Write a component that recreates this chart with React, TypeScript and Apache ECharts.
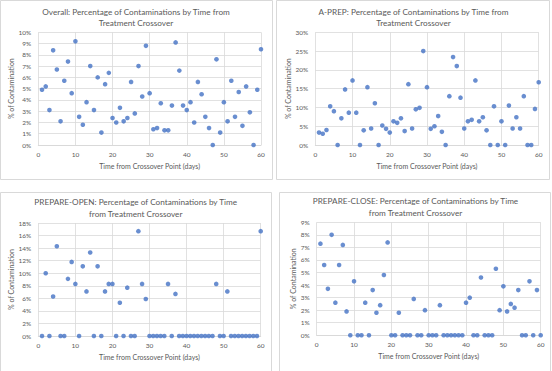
import React, { useEffect, useRef } from "react";
import * as echarts from "echarts";

const days = Array.from({ length: 60 }, (_, i) => i + 1);

const overall = [
  4.9, 5.2, 3.1, 8.4, 6.7, 2.1, 5.7, 7.4, 4.6, 9.2,
  2.5, 1.8, 3.8, 7.0, 3.1, 6.0, 1.1, 5.4, 6.4, 2.4,
  2.0, 3.3, 2.1, 2.4, 5.6, 2.8, 7.0, 4.3, 8.8, 4.6,
  1.4, 1.5, 3.7, 1.3, 1.3, 3.5, 9.1, 6.6, 3.5, 3.1,
  3.8, 2.0, 5.6, 4.5, 2.5, 1.5, 0, 7.6, 1.1, 3.8,
  2.1, 5.7, 2.5, 4.7, 1.7, 5.2, 2.9, 0, 4.9, 8.5,
];

const aPrep = [
  3.3, 3.0, 4.0, 10.3, 9.0, 0, 7.1, 14.8, 8.6, 17.2,
  8.6, 0, 3.9, 15.4, 4.4, 11.1, 0, 5.2, 4.3, 3.3,
  6.3, 5.9, 7.1, 3.7, 16.2, 4.4, 9.5, 9.9, 25.0, 15.4,
  4.3, 5.0, 7.7, 3.5, 0, 13.0, 23.4, 21.0, 12.6, 4.4,
  6.3, 6.7, 17.2, 6.3, 7.4, 3.9, 0, 10.3, 0, 6.3,
  0, 10.5, 4.4, 7.4, 4.4, 13.0, 0, 0, 9.6, 16.7,
];

const prepareOpen = [
  0, 10.0, 0, 6.3, 14.3, 0, 0, 9.1, 11.8, 8.3,
  0, 11.1, 7.1, 13.3, 0, 11.1, 0, 7.1, 8.3, 8.3,
  0, 5.3, 0, 7.7, 0, 0, 16.7, 8.3, 5.9, 0,
  0, 0, 0, 0, 8.3, 0, 6.7, 0, 0, 0,
  0, 0, 0, 0, 0, 0, 0, 8.3, 0, 0,
  7.1, 0, 0, 0, 0, 0, 0, 0, 0, 16.7,
];

const prepareClose = [
  7.3, 5.6, 3.7, 8.0, 2.6, 5.6, 7.2, 1.9, 0, 4.3,
  0, 0, 2.6, 0, 3.6, 1.8, 2.4, 4.8, 7.4, 0,
  0, 1.8, 0, 0, 0, 2.9, 0, 0, 2.0, 0,
  0, 0, 2.4, 0, 0, 0, 0, 0, 0, 2.6,
  3.0, 0, 0, 4.6, 0, 0, 0, 5.3, 2.0, 3.9,
  1.9, 2.5, 2.2, 3.6, 0, 0, 4.3, 0, 3.6, 0,
];

const titles = [
  ["Overall: Percentage of Contaminations by Time from", "Treatment Crossover"],
  ["A-PREP: Percentage of Contaminations by Time from", "Treatment Crossover"],
  ["PREPARE-OPEN: Percentage of Contaminations by Time", "from Treatment Crossover"],
  ["PREPARE-CLOSE: Percentage of Contaminations by Time", "from Treatment Crossover"],
];
const yMax = [10, 30, 18, 9];
const yInterval = [1, 5, 2, 1];
const seriesData = [overall, aPrep, prepareOpen, prepareClose];
const xAxisTitle = "Time from Crossover Point (days)";
const yAxisTitle = "% of Contamination";

const FONT = "Lato";
const TXT = "#595959";
const GRID = "#d9d9d9";
const BLUE = "#4472C4";

const grids = [
  { left: 38.3, top: 32.3, width: 222.7, height: 112.7 },
  { left: 315.3, top: 32.3, width: 223.4, height: 112.7 },
  { left: 38.3, top: 223, width: 222.4, height: 113 },
  { left: 316.7, top: 222.3, width: 224, height: 113 },
];
const titlePos = [
  { x: 136, y1: 12.3, y2: 23.3 },
  { x: 413.5, y1: 12.3, y2: 23.3 },
  { x: 135.7, y1: 202.3, y2: 214 },
  { x: 415.5, y1: 201, y2: 212.7 },
];
const borders = [
  { x: 0.5, y: 0.5, width: 272, height: 179 },
  { x: 276.5, y: 0.5, width: 273, height: 179 },
  { x: 0.5, y: 192.5, width: 271, height: 190 },
  { x: 279.5, y: 192.5, width: 271, height: 190 },
];
const yNameGap = [22, 22, 22, 18.5];

export default function App() {
  const ref = useRef<HTMLDivElement>(null);
  useEffect(() => {
    if (!ref.current) return;
    const chart = echarts.init(ref.current, undefined, { renderer: "svg" });
    const graphics: any[] = [];
    borders.forEach((b) => {
      graphics.push({
        type: "rect",
        shape: b,
        style: { fill: "#fff", stroke: GRID, lineWidth: 1 },
        z: -10,
        silent: true,
      });
    });
    titles.forEach((t, i) => {
      const p = titlePos[i];
      [t[0], t[1]].forEach((line, j) => {
        graphics.push({
          type: "text",
          x: p.x,
          y: j === 0 ? p.y1 : p.y2,
          style: {
            text: line,
            fill: TXT,
            font: `8.2px ${FONT}`,
            textAlign: "center",
            textVerticalAlign: "middle",
          },
          z: 10,
        });
      });
    });
    const option: any = {
      animation: false,
      backgroundColor: "#fff",
      grid: grids.map((g) => ({ ...g, containLabel: false })),
      xAxis: grids.map((_, i) => ({
        type: "value",
        gridIndex: i,
        min: 0,
        max: 60,
        interval: 10,
        name: xAxisTitle,
        nameLocation: "middle",
        nameGap: 17,
        nameTextStyle: { color: TXT, fontFamily: FONT, fontSize: 7 },
        axisLine: { show: true, lineStyle: { color: GRID, width: 1 } },
        axisTick: { show: false },
        axisLabel: { color: TXT, fontFamily: FONT, fontSize: 6.5, margin: 6 },
        splitLine: { show: true, lineStyle: { color: GRID, width: 0.8 } },
      })),
      yAxis: grids.map((_, i) => ({
        type: "value",
        gridIndex: i,
        min: 0,
        max: yMax[i],
        interval: yInterval[i],
        name: yAxisTitle,
        nameLocation: "middle",
        nameGap: yNameGap[i],
        nameTextStyle: { color: TXT, fontFamily: FONT, fontSize: 7 },
        axisLine: { show: false },
        axisTick: { show: false },
        axisLabel: {
          color: TXT,
          fontFamily: FONT,
          fontSize: 6.5,
          margin: 7,
          formatter: "{value}%",
        },
        splitLine: { show: true, lineStyle: { color: GRID, width: 0.8 } },
      })),
      series: seriesData.map((d, i) => ({
        type: "scatter",
        xAxisIndex: i,
        yAxisIndex: i,
        symbol: "circle",
        symbolSize: 4.6,
        itemStyle: { color: BLUE },
        data: days.map((day, k) => [day, d[k]]),
        clip: false,
      })),
      graphic: graphics,
    };
    chart.setOption(option);
    return () => chart.dispose();
  }, []);
  return (
    <div
      ref={ref}
      style={{ position: "absolute", left: 0, top: 0, width: 552, height: 371 }}
    />
  );
}
